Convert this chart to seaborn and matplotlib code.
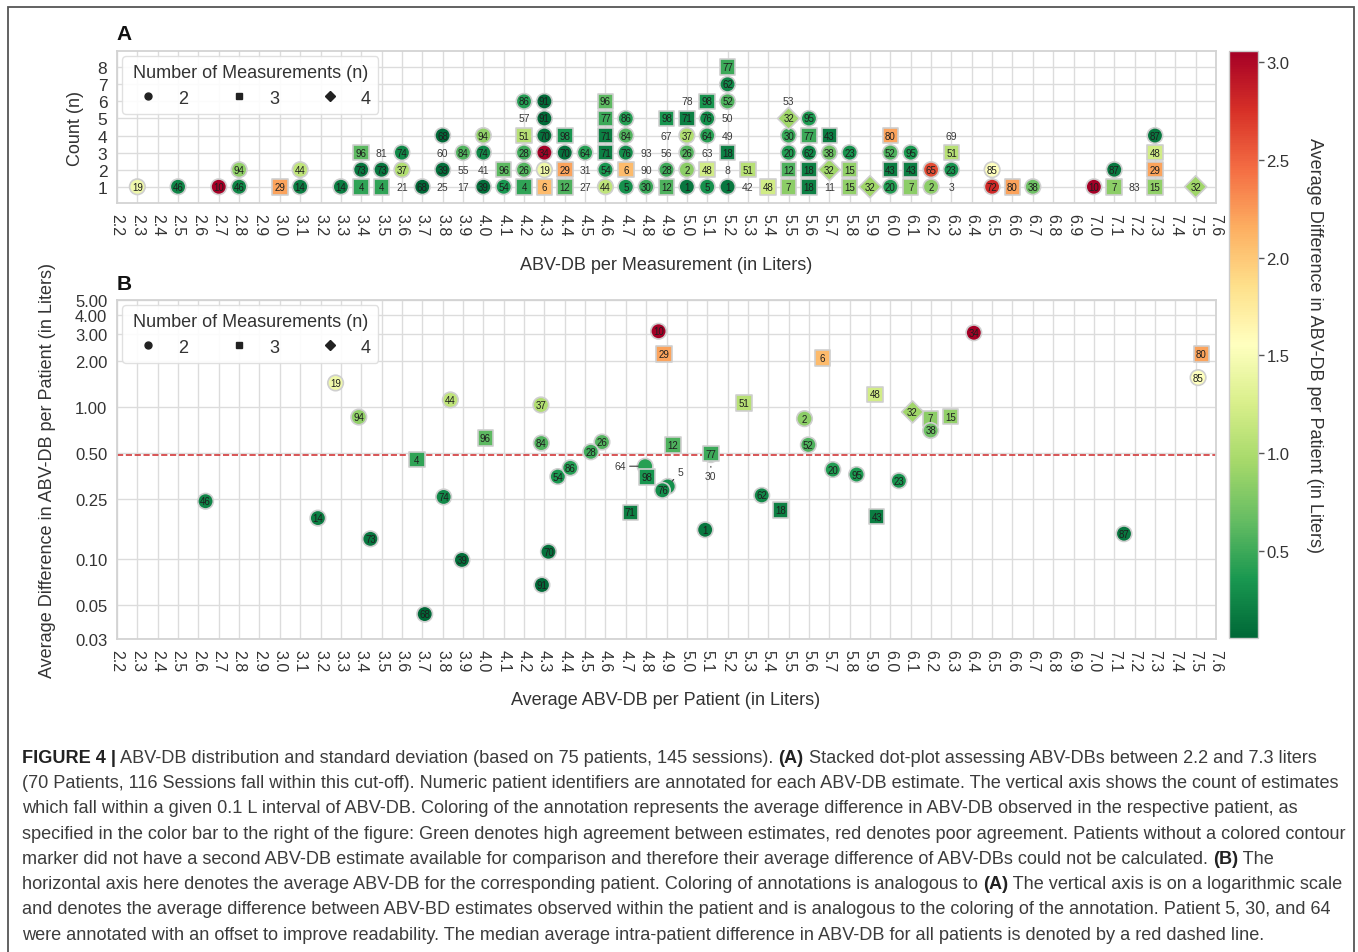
import numpy as np
import pandas as pd
import matplotlib
matplotlib.use("Agg")
import matplotlib.pyplot as plt
import seaborn as sns
from matplotlib.lines import Line2D
from matplotlib.colors import Normalize
from matplotlib.cm import ScalarMappable
from matplotlib.patches import Rectangle
from matplotlib.ticker import NullLocator
from matplotlib import font_manager

# ---------------- data ----------------
# patients that have >= 2 measurements (marker shown)
patient_id = [1, 2, 4, 5, 6, 7, 10, 12, 14, 15, 18, 19, 20, 23, 26, 28, 29, 30, 32, 34,
              37, 38, 39, 43, 44, 46, 48, 51, 52, 54, 62, 64, 65, 68, 70, 71, 72, 73, 74, 76,
              77, 80, 84, 85, 86, 87, 91, 94, 95, 96, 98]
patient_n = [2, 2, 3, 2, 3, 3, 2, 3, 2, 3, 3, 2, 2, 2, 2, 2, 3, 2, 4, 2,
             2, 2, 2, 3, 2, 2, 3, 3, 2, 2, 2, 2, 2, 2, 2, 3, 2, 2, 2, 2,
             3, 3, 2, 2, 2, 2, 2, 2, 2, 3, 3]
patient_mean = [5.09, 5.578, 3.674, 4.906, 5.667, 6.198, 4.861, 4.931, 3.187, 6.296, 5.461, 3.274,
                5.717, 6.042, 4.583, 4.528, 4.888, 5.118, 6.109, 6.41, 4.283, 6.198, 3.895, 5.933,
                3.838, 2.635, 5.925, 5.28, 5.597, 4.366, 5.368, 4.795, np.nan, 3.712, 4.32, 4.722,
                np.nan, 3.445, 3.805, 4.88, 5.118, 7.528, 4.285, 7.512, 4.427, 7.148, 4.288, 3.388,
                5.834, 4.01, 4.803]
patient_diff = [0.156, 0.834, 0.45, 0.30, 2.08, 0.838, 3.12, 0.562, 0.186, 0.86, 0.211, 1.43,
                0.387, 0.327, 0.586, 0.506, 2.21, 0.485, 0.923, 3.05, 1.026, 0.698, 0.099, 0.19,
                1.107, 0.24, 1.205, 1.06, 0.562, 0.348, 0.262, 0.407, 2.62, 0.0437, 0.112, 0.203,
                2.8, 0.136, 0.256, 0.283, 0.493, 2.21, 0.577, 1.55, 0.397, 0.147, 0.0678, 0.855,
                0.359, 0.625, 0.346]

# panel A: 0.1 L bins and the patient ids stacked in each bin (bottom to top)
a_bins = [2.3, 2.5, 2.7, 2.8, 3.0, 3.1, 3.3, 3.4, 3.5, 3.6, 3.7, 3.8, 3.9, 4.0, 4.1, 4.2, 4.3,
          4.4, 4.5, 4.6, 4.7, 4.8, 4.9, 5.0, 5.1, 5.2, 5.3, 5.4, 5.5, 5.6, 5.7, 5.8, 5.9, 6.0,
          6.1, 6.2, 6.3, 6.5, 6.6, 6.7, 7.0, 7.1, 7.2, 7.3, 7.5]
a_stacks = [[19], [46], [10], [46, 94], [29], [14, 44], [14], [4, 73, 96], [4, 73, 81],
            [21, 37, 74], [68], [25, 39, 60, 68], [17, 55, 84], [39, 41, 74, 94], [54, 96],
            [4, 26, 28, 51, 57, 86], [6, 19, 34, 70, 91, 91], [12, 29, 70, 98], [27, 31, 64],
            [44, 54, 71, 71, 77, 96], [5, 6, 76, 84, 86], [30, 90, 93], [12, 28, 56, 67, 98],
            [1, 2, 26, 37, 71, 78], [5, 48, 63, 64, 76, 98], [1, 8, 18, 49, 50, 52, 62, 77],
            [42, 51], [48], [7, 12, 20, 30, 32, 53], [18, 18, 62, 77, 95], [11, 32, 38, 43],
            [15, 15, 23], [32], [20, 43, 52, 80], [7, 43, 95], [2, 65], [3, 23, 51, 69],
            [72, 85], [80], [38], [10], [7, 87], [83], [15, 29, 48, 87], [32]]

median_diff = 0.48
count_ticks = [1, 2, 3, 4, 5, 6, 7, 8]
diff_ticks = [0.03, 0.05, 0.10, 0.25, 0.50, 1.00, 2.00, 3.00, 4.00, 5.00]
cbar_ticks = [0.5, 1.0, 1.5, 2.0, 2.5, 3.0]
n_levels = [2, 3, 4]

caption_lines = [
    [("FIGURE 4 |", True), (" ABV-DB distribution and standard deviation (based on 75 patients, 145 sessions). ", False),
     ("(A)", True), (" Stacked dot-plot assessing ABV-DBs between 2.2 and 7.3 liters", False)],
    [("(70 Patients, 116 Sessions fall within this cut-off). Numeric patient identifiers are annotated for each ABV-DB estimate. The vertical axis shows the count of estimates", False)],
    [("which fall within a given 0.1 L interval of ABV-DB. Coloring of the annotation represents the average difference in ABV-DB observed in the respective patient, as", False)],
    [("specified in the color bar to the right of the figure: Green denotes high agreement between estimates, red denotes poor agreement. Patients without a colored contour", False)],
    [("marker did not have a second ABV-DB estimate available for comparison and therefore their average difference of ABV-DBs could not be calculated. ", False),
     ("(B)", True), (" The", False)],
    [("horizontal axis here denotes the average ABV-DB for the corresponding patient. Coloring of annotations is analogous to ", False),
     ("(A)", True), (" The vertical axis is on a logarithmic scale", False)],
    [("and denotes the average difference between ABV-BD estimates observed within the patient and is analogous to the coloring of the annotation. Patient 5, 30, and 64", False)],
    [("were annotated with an offset to improve readability. The median average intra-patient difference in ABV-DB for all patients is denoted by a red dashed line.", False)],
]

# ---------------- style ----------------
sns.set_theme(style="whitegrid")
plt.rcParams["font.family"] = ["Liberation Sans", "DejaVu Sans"]

W, H = 1358, 953
fig = plt.figure(figsize=(W / 100, H / 100), dpi=100)


def box(l, t, r, b):
    return [l / W, 1 - b / H, (r - l) / W, (b - t) / H]


axA = fig.add_axes(box(117, 52, 1216, 204))
axB = fig.add_axes(box(117, 301, 1216, 640))
cax = fig.add_axes(box(1229, 52, 1258, 639))

cmap = "RdYlGn_r"
norm = Normalize(vmin=0.053, vmax=3.058)
markers = {2: "o", 3: "s", 4: "D"}
MS = 125
EDGE = "#cfcfcf"

pt = pd.DataFrame({"pid": patient_id, "n": patient_n, "mean": patient_mean, "diff": patient_diff})

# ---------------- panel A ----------------
rows = []
for b, stack in zip(a_bins, a_stacks):
    for i, p in enumerate(stack):
        rows.append({"abv": b, "count": i + 1, "pid": p})
dfA = pd.DataFrame(rows).merge(pt, on="pid", how="left")
marked = dfA[dfA["n"].notna()].copy()
marked["n"] = marked["n"].astype(int)

sns.scatterplot(data=marked, x="abv", y="count", hue="diff", hue_norm=norm, palette=cmap,
                style="n", markers=markers, s=MS, edgecolor=EDGE, linewidth=1.2,
                legend=False, ax=axA, zorder=3)
for r in dfA.itertuples():
    if np.isnan(r.n):
        axA.text(r.abv, r.count, str(r.pid), ha="center", va="center", fontsize=7.5,
                 color="#3a3a3a", zorder=4)
    else:
        axA.text(r.abv, r.count, str(r.pid), ha="center", va="center", fontsize=7,
                 color="#1e1e1e", zorder=4)

# ---------------- panel B ----------------
dfB = pt[pt["mean"].notna()].copy()
sns.scatterplot(data=dfB, x="mean", y="diff", hue="diff", hue_norm=norm, palette=cmap,
                style="n", markers=markers, s=MS, edgecolor=EDGE, linewidth=1.2,
                legend=False, ax=axB, zorder=3)
offsets = {64: ((-14, 0), "right", "center", 5),
           5: ((7, 7), "left", "bottom", 5),
           30: ((0, -12), "center", "top", 8.5)}
for r in dfB.itertuples():
    if r.pid in offsets:
        off, ha, va, shr = offsets[r.pid]
        axB.annotate(str(r.pid), xy=(r.mean, r.diff), xytext=off, textcoords="offset points",
                     ha=ha, va=va, fontsize=7.5, color="#3a3a3a", zorder=4,
                     arrowprops=dict(arrowstyle="-", color="#3a3a3a", lw=0.8,
                                     shrinkA=0.5, shrinkB=shr))
    else:
        axB.text(r.mean, r.diff, str(r.pid), ha="center", va="center", fontsize=7,
                 color="#1e1e1e", zorder=4)
axB.axhline(median_diff, color="#d2383a", ls="--", lw=1.2, zorder=2)

# ---------------- axes formatting ----------------
xt = np.round(np.arange(22, 77) / 10, 1)
for ax in (axA, axB):
    ax.set_xlim(2.2, 7.6)
    ax.set_xticks(xt)
    ax.set_xticklabels([f"{v:.1f}" for v in xt], rotation=270, fontsize=11.5, color="#333333")
    ax.tick_params(axis="both", length=0, pad=7)
    ax.set_xlabel("")
    ax.set_ylabel("")
    ax.grid(True, color="#dcdcdc", lw=1.0)
    for s in ax.spines.values():
        s.set_color("#d3d3d3")
        s.set_linewidth(1.3)

axA.set_ylim(0.05, 8.95)
axA.set_yticks(count_ticks)
axA.set_yticklabels([str(v) for v in count_ticks], fontsize=12.5, color="#333333")

axB.set_yscale("log")
axB.set_ylim(0.03, 5.0)
axB.set_yticks(diff_ticks)
axB.set_yticklabels([f"{v:.2f}" for v in diff_ticks], fontsize=12, color="#333333")
axB.yaxis.set_minor_locator(NullLocator())

handles = [Line2D([], [], marker=markers[k], color="#222222", linestyle="", markersize=5)
           for k in n_levels]
for ax in (axA, axB):
    leg = ax.legend(handles, [str(k) for k in n_levels], title="Number of Measurements (n)",
                    loc="upper left", ncol=3, fontsize=13, title_fontsize=13,
                    handletextpad=0.7, columnspacing=1.8, borderaxespad=0.3,
                    framealpha=0.9, borderpad=0.4)
    leg.get_frame().set_edgecolor("#dddddd")
    leg.get_title().set_color("#333333")
    for t in leg.get_texts():
        t.set_color("#333333")

# colorbar
sm = ScalarMappable(norm=norm, cmap=cmap)
cb = fig.colorbar(sm, cax=cax)
cb.set_ticks(cbar_ticks)
cb.set_ticklabels([f"{v:.1f}" for v in cbar_ticks])
cax.tick_params(axis="y", right=True, length=4, width=1, color="#555555", labelsize=12,
                pad=2, labelcolor="#333333")
cb.outline.set_edgecolor("#cccccc")
cb.outline.set_linewidth(1.0)

# labels
lab = dict(fontsize=13, color="#333333")
fig.text(75 / W, 1 - 128 / H, "Count (n)", rotation=90, ha="center", va="center", **lab)
fig.text(48 / W, 1 - 470 / H, "Average Difference in ABV-DB per Patient (in Liters)", rotation=90,
         ha="center", va="center", **lab)
fig.text(666 / W, 1 - 265 / H, "ABV-DB per Measurement (in Liters)", ha="center", va="center", **lab)
fig.text(666 / W, 1 - 701 / H, "Average ABV-DB per Patient (in Liters)", ha="center", va="center", **lab)
fig.text(1315 / W, 1 - 346 / H, "Average Difference in ABV-DB per Patient (in Liters)", rotation=270,
         ha="center", va="center", **lab)
fig.text(124 / W, 1 - 35 / H, "A", ha="center", va="center", fontsize=15, fontweight="bold", color="#111111")
fig.text(124 / W, 1 - 284 / H, "B", ha="center", va="center", fontsize=15, fontweight="bold", color="#111111")

# figure border
fig.add_artist(Rectangle((8 / W, -0.02), (1354 - 8) / W, 1.02 - 8 / H, transform=fig.transFigure,
                         fill=False, edgecolor="#555555", lw=1.3))

# caption
names = {f.name for f in font_manager.fontManager.ttflist}
cap_family = "Liberation Sans Narrow" if "Liberation Sans Narrow" in names else "Liberation Sans"
renderer = fig.canvas.get_renderer()


def line_width(segs, size):
    tot = 0
    for txt, bold in segs:
        t = fig.text(0, 0, txt, fontsize=size, family=cap_family,
                     fontweight="bold" if bold else "normal")
        tot += t.get_window_extent(renderer).width
        t.remove()
    return tot


base = 12.0
w0 = line_width(caption_lines[0], base)
cap_size = base * 1299.0 / w0
for i, segs in enumerate(caption_lines):
    x = 22.0
    yb = 763 + 25.25 * i
    for txt, bold in segs:
        t = fig.text(x / W, 1 - yb / H, txt, fontsize=cap_size, family=cap_family,
                     fontweight="bold" if bold else "normal",
                     color="#222222" if bold else "#3c3c3c", ha="left", va="baseline")
        x += t.get_window_extent(renderer).width

fig.savefig("out.png", dpi=100)
